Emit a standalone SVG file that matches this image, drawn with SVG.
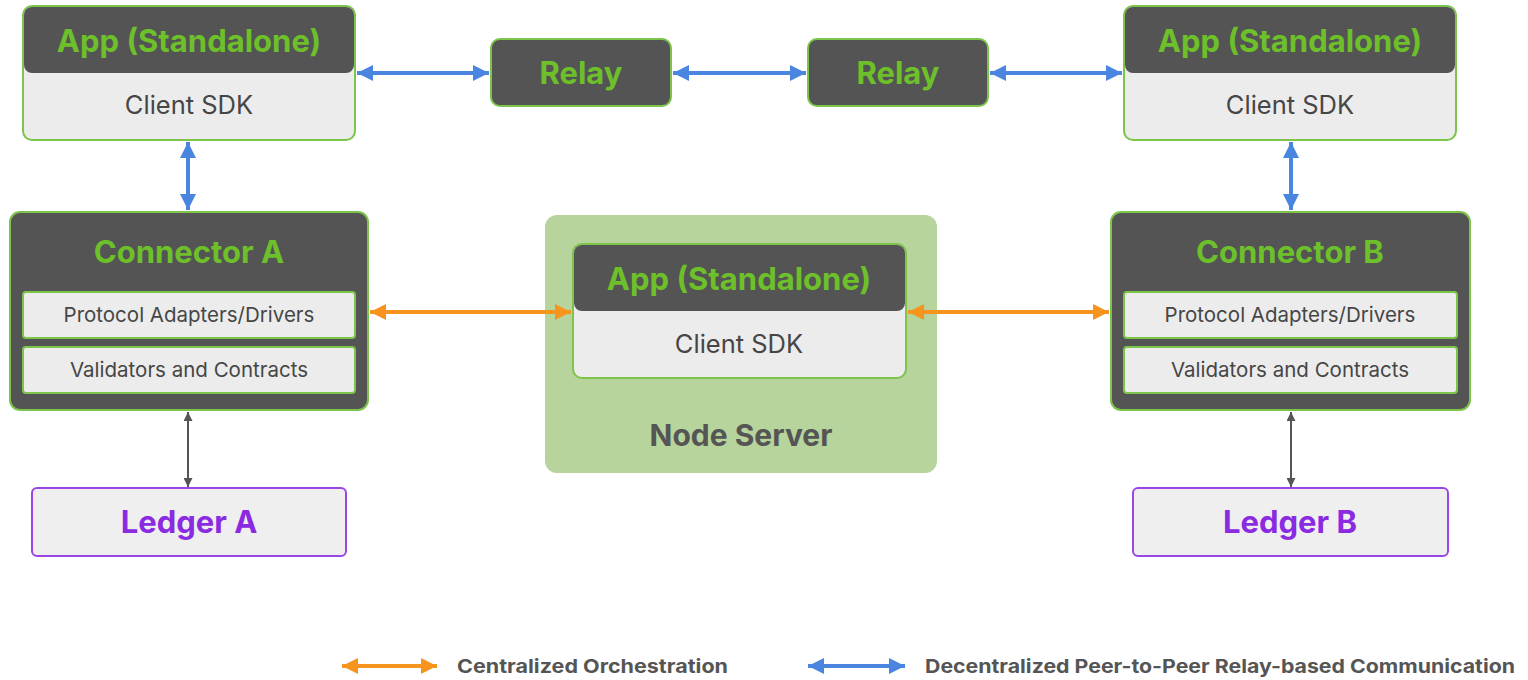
<svg xmlns="http://www.w3.org/2000/svg" width="1528" height="680" viewBox="0 0 1528 680">
<defs>
<style>
.t{font-family:Inter,"Noto Sans","Liberation Sans",sans-serif;text-anchor:middle;}
.title{font-weight:700;font-size:31px;fill:#6dc02a;}
.sdk{font-size:25.5px;fill:#464646;}
.sub{font-size:20.5px;fill:#464646;}
.ledger{font-weight:700;font-size:31px;fill:#8a2be2;}
.ns{font-weight:700;font-size:30px;fill:#555555;}
.leg{font-family:Inter,"Noto Sans","Liberation Sans",sans-serif;font-weight:700;font-size:19px;fill:#555555;}
.card{fill:#ececec;stroke:#7cc44a;stroke-width:2;}
.dark{fill:#545454;stroke:#7cc44a;stroke-width:2;}
.head{fill:#545454;}
.subbox{fill:#ececec;stroke:#7cc44a;stroke-width:2;}
.lbox{fill:#efefef;stroke:#9b45e4;stroke-width:2;}
.blue{stroke:#4a86e0;stroke-width:4;fill:none;}
.orange{stroke:#f7941d;stroke-width:4;fill:none;}
.gray{stroke:#555555;stroke-width:2;fill:none;}
</style>
<marker id="bh" viewBox="0 0 10 10" refX="10" refY="5" markerUnits="userSpaceOnUse" markerWidth="18" markerHeight="16" orient="auto-start-reverse"><path d="M0,0 L10,5 L0,10 z" fill="#4a86e0"/></marker>
<marker id="oh" viewBox="0 0 10 10" refX="10" refY="5" markerUnits="userSpaceOnUse" markerWidth="18" markerHeight="16" orient="auto-start-reverse"><path d="M0,0 L10,5 L0,10 z" fill="#f7941d"/></marker>
<marker id="gh" viewBox="0 0 10 10" refX="10" refY="5" markerUnits="userSpaceOnUse" markerWidth="9" markerHeight="9" orient="auto-start-reverse"><path d="M0,0 L10,5 L0,10 z" fill="#555555"/></marker>
</defs>
<rect width="1528" height="680" fill="#ffffff"/>

<g id="app-left">
<rect class="card" x="23" y="6" width="332" height="134" rx="9"/>
<rect class="head" x="24" y="7" width="330" height="66" rx="8"/>
<text class="t title" x="189" y="52">App (Standalone)</text>
<text class="t sdk" x="189" y="114">Client SDK</text>
</g>

<g id="relay-1">
<rect class="dark" x="491" y="39" width="180" height="67" rx="9"/>
<text class="t title" x="581" y="84">Relay</text>
</g>

<g id="relay-2">
<rect class="dark" x="808" y="39" width="180" height="67" rx="9"/>
<text class="t title" x="898" y="84">Relay</text>
</g>

<g id="app-right">
<rect class="card" x="1124" y="6" width="332" height="134" rx="9"/>
<rect class="head" x="1125" y="7" width="330" height="66" rx="8"/>
<text class="t title" x="1290" y="52">App (Standalone)</text>
<text class="t sdk" x="1290" y="114">Client SDK</text>
</g>

<g id="connector-a">
<rect class="dark" x="10" y="212" width="358" height="198" rx="10"/>
<text class="t title" x="189" y="263">Connector A</text>
<rect class="subbox" x="23" y="292" width="332" height="46" rx="3"/>
<text class="t sub" x="189" y="322">Protocol Adapters/Drivers</text>
<rect class="subbox" x="23" y="347" width="332" height="46" rx="3"/>
<text class="t sub" x="189" y="377">Validators and Contracts</text>
</g>

<g id="node-server">
<rect x="545" y="215" width="392" height="258" rx="12" fill="#b6d49b"/>
<text class="t ns" x="741" y="446">Node Server</text>
</g>

<g id="app-center">
<rect class="card" x="573" y="244" width="333" height="134" rx="9"/>
<rect class="head" x="574" y="245" width="331" height="66" rx="8"/>
<text class="t title" x="739" y="290">App (Standalone)</text>
<text class="t sdk" x="739" y="353">Client SDK</text>
</g>

<g id="connector-b">
<rect class="dark" x="1111" y="212" width="359" height="198" rx="10"/>
<text class="t title" x="1290" y="263">Connector B</text>
<rect class="subbox" x="1124" y="292" width="333" height="46" rx="3"/>
<text class="t sub" x="1290" y="322">Protocol Adapters/Drivers</text>
<rect class="subbox" x="1124" y="347" width="333" height="46" rx="3"/>
<text class="t sub" x="1290" y="377">Validators and Contracts</text>
</g>

<g id="ledger-a">
<rect class="lbox" x="32" y="488" width="314" height="68" rx="5"/>
<text class="t ledger" x="189" y="533">Ledger A</text>
</g>

<g id="ledger-b">
<rect class="lbox" x="1133" y="488" width="315" height="68" rx="5"/>
<text class="t ledger" x="1290" y="533">Ledger B</text>
</g>

<g id="connectors">
<line class="blue" x1="357" y1="73" x2="489" y2="73" marker-start="url(#bh)" marker-end="url(#bh)"/>
<line class="blue" x1="673" y1="73" x2="806" y2="73" marker-start="url(#bh)" marker-end="url(#bh)"/>
<line class="blue" x1="990" y1="73" x2="1122" y2="73" marker-start="url(#bh)" marker-end="url(#bh)"/>
<line class="blue" x1="188" y1="142" x2="188" y2="210" marker-start="url(#bh)" marker-end="url(#bh)"/>
<line class="blue" x1="1291" y1="142" x2="1291" y2="210" marker-start="url(#bh)" marker-end="url(#bh)"/>
<line class="orange" x1="370" y1="312" x2="571" y2="312" marker-start="url(#oh)" marker-end="url(#oh)"/>
<line class="orange" x1="908" y1="312" x2="1109" y2="312" marker-start="url(#oh)" marker-end="url(#oh)"/>
<line class="gray" x1="188" y1="412" x2="188" y2="487" marker-start="url(#gh)" marker-end="url(#gh)"/>
<line class="gray" x1="1291" y1="412" x2="1291" y2="487" marker-start="url(#gh)" marker-end="url(#gh)"/>
</g>

<g id="legend">
<line class="orange" x1="342" y1="666" x2="437" y2="666" marker-start="url(#oh)" marker-end="url(#oh)"/>
<text class="leg" x="457" y="673" textLength="271" lengthAdjust="spacingAndGlyphs">Centralized Orchestration</text>
<line class="blue" x1="808" y1="666" x2="905" y2="666" marker-start="url(#bh)" marker-end="url(#bh)"/>
<text class="leg" x="925" y="673" textLength="590" lengthAdjust="spacingAndGlyphs">Decentralized Peer-to-Peer Relay-based Communication</text>
</g>
</svg>
